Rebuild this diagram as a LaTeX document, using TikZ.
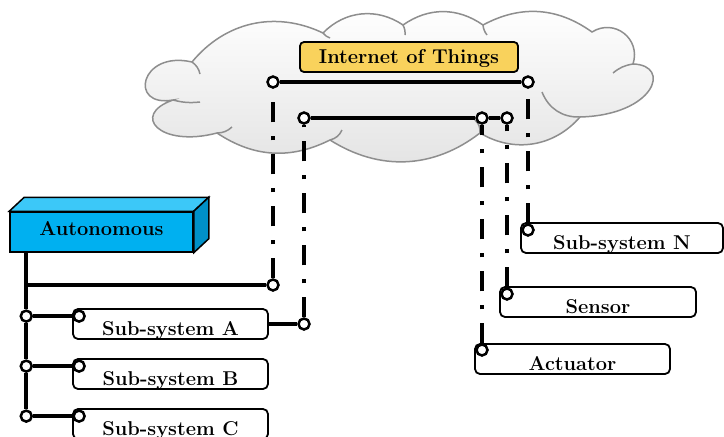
\documentclass[tikz,border=0pt]{standalone}
\definecolor{iotfill}{HTML}{F9D25C}
\definecolor{autofront}{HTML}{00B0F0}
\definecolor{autotop}{HTML}{3CC8F8}
\definecolor{autoside}{HTML}{0090C8}
\definecolor{cloudline}{HTML}{8E8E8E}
\begin{document}
\begin{tikzpicture}[x=1pt,y=-1pt,
    label font/.style={font=\fontsize{20}{22}\selectfont\bfseries},
    link/.style={line width=4pt},
    wire/.style={line width=4pt, dash pattern=on 20pt off 14pt on 4pt off 14pt},
    pin/.style={circle, draw, fill=white, line width=2.5pt, inner sep=0pt, minimum size=11pt},
    unit/.style={draw, line width=1.8pt, rounded corners=5pt, fill=white,
        minimum width=195pt, minimum height=30pt, inner sep=0pt,
        text height=22pt, text depth=0pt, label font}]
    \def\dx{15}
    \def\dy{-14}

    \useasboundingbox (0,0) rectangle (724,437);
    \fill[white] (0,0) rectangle (724,437);

    % cloud
    \draw[cloudline, line width=1.5pt, top color=white, bottom color=gray!22]
        (173,100) .. controls (128,108) and (140,50) .. (192,62)
        to[bend left=38] (323,33)
        to[bend left=40] (403,25) to[bend left=35] (483,25)
        to[bend left=32] (592,32) to[bend left=70, looseness=1.3] (633,64)
        .. controls (672,65) and (655,115) .. (580,117)
        to[bend left=40] (480,133)
        to[bend left=35] (330,140) to[bend left=30] (217,133)
        .. controls (160,148) and (130,115) .. (173,100) -- cycle;
    % inner cloud strokes
    \draw[cloudline, line width=1.5pt]
        (192,62) to[bend left=20] (200,74)
        (173,100) to[bend right=10] (200,102)
        (217,133) to[bend right=20] (232,127)
        (330,140) to[bend right=25] (342,130)
        (480,133) to[bend right=25] (475,120)
        (580,117) to[bend left=35] (542,92)
        (633,64) to[bend right=15] (613,73)
        (483,25) to[bend right=15] (487,35)
        (403,25) to[bend left=15] (405,35)
        (323,33) to[bend right=15] (330,38);

    \node[draw, line width=1.8pt, rounded corners=4pt, fill=iotfill,
          minimum width=218pt, minimum height=30pt, inner sep=0pt,
          text height=12pt, text depth=0pt, label font] (iot) at (409,57) {Internet of Things};

    % autonomous block
    \node[draw, line width=1.5pt, fill=autofront, minimum width=183pt, minimum height=40pt,
          inner sep=0pt, text height=13pt, text depth=7pt, label font] (auto) at (101.5,232) {Autonomous};
    \draw[line width=1.5pt, fill=autotop] (auto.north west) -- ([shift={(\dx,\dy)}]auto.north west)
        -- ([shift={(\dx,\dy)}]auto.north east) -- (auto.north east) -- cycle;
    \draw[line width=1.5pt, fill=autoside] (auto.north east) -- ([shift={(\dx,\dy)}]auto.north east)
        -- ([shift={(\dx,\dy)}]auto.south east) -- (auto.south east) -- cycle;

    % sub-systems
    \node[unit] (subA) at (170.5,324) {Sub-system A};
    \node[unit] (subB) at (170.5,374) {Sub-system B};
    \node[unit] (subC) at (170.5,424) {Sub-system C};
    \node[unit, minimum width=202pt] (subN) at (622,238) {Sub-system N};
    \node[unit, minimum width=196pt] (sensor) at (598,302) {Sensor};
    \node[unit] (actuator) at (572.5,359) {Actuator};

    % pins
    \node[pin] (topL) at (273,82) {};
    \node[pin] (topR) at (528,82) {};
    \node[pin] (midL) at (304,118) {};
    \node[pin] (midA) at (482,118) {};
    \node[pin] (midS) at (507,118) {};

    \coordinate (bustop) at ([xshift=17pt]auto.south west);
    \node[pin] (tapL) at (273,285) {};
    \coordinate (tap) at (bustop |- tapL);
    \node[pin] (subAout) at (304,324) {};
    \foreach \s in {subA,subB,subC}
        \node[pin] (\s pin) at ([shift={(7,8)}]\s.north west) {};
    \node[pin] (subNpin) at (topR |- 0,230) {};
    \node[pin] (sensorpin) at (midS |- 0,294) {};
    \node[pin] (actuatorpin) at (midA |- 0,350) {};
    \node[pin] (busA) at (bustop |- subApin) {};
    \node[pin] (busB) at (bustop |- subBpin) {};
    \node[pin] (busC) at (bustop |- subCpin) {};

    % solid links
    \draw[link] (topL) -- (topR);
    \draw[link] (midL) -- (midA) -- (midS);
    \draw[link] (bustop) -- (busA) -- (busB) -- (busC);
    \draw[link] (tap) -- (tapL);
    \draw[link] (subA.east) -- (subAout);
    \draw[link] (busA) -- (subApin);
    \draw[link] (busB) -- (subBpin);
    \draw[link] (busC) -- (subCpin);

    % wireless links
    \draw[wire] (tapL) -- (topL);
    \draw[wire] (subAout) -- (midL);
    \draw[wire] (actuatorpin) -- (midA);
    \draw[wire] (sensorpin) -- (midS);
    \draw[wire] (subNpin) -- (topR);
\end{tikzpicture}
\end{document}
